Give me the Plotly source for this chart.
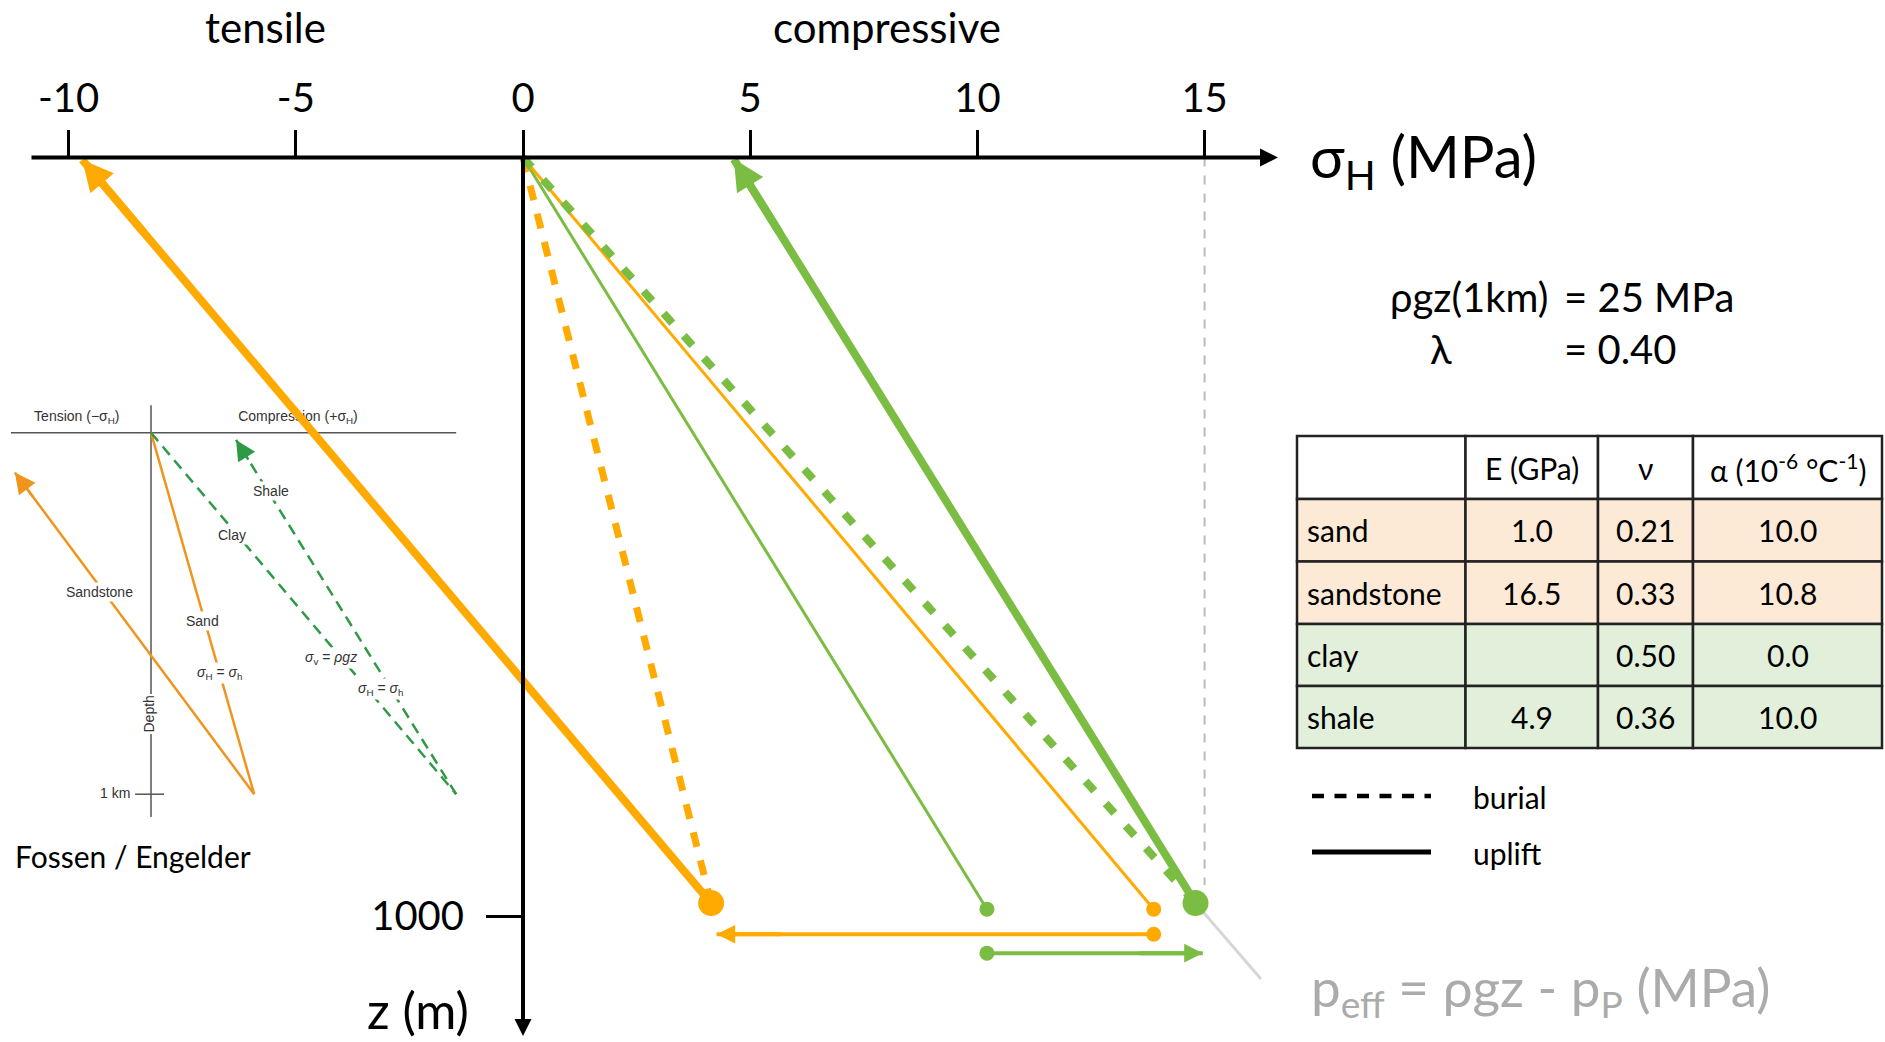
import plotly.graph_objects as go

# ===================== DATA =====================
# Main diagram: horizontal stress sigma_H (MPa) against depth z (m)
sigma_ticks = [-10, -5, 0, 5, 10, 15]
sigma_tick_labels = ["-10", "-5", "0", "5", "10", "15"]
depth_ticks = [1000]
depth_tick_labels = ["1000"]

# burial paths (dashed)
sand_burial_sigma = [0.0, 4.14]
sand_burial_z = [0, 983]
clay_burial_sigma = [0.0, 14.80]
clay_burial_z = [0, 983]
# elastic burial paths (thin)
sandstone_burial_sigma = [0.0, 13.88]
sandstone_burial_z = [0, 991]
shale_burial_sigma = [0.0, 10.21]
shale_burial_z = [0, 991]
# uplift paths (thick, with arrows)
sandstone_uplift_sigma = [4.14, -9.70]
sandstone_uplift_z = [983, 3]
shale_uplift_sigma = [14.80, 4.64]
shale_uplift_z = [983, 2]
# stress shifts at depth
sandstone_shift_sigma = [13.88, 4.26]
sandstone_shift_z = [1024, 1024]
shale_shift_sigma = [10.21, 14.96]
shale_shift_z = [1049, 1049]
# reference lines
peff_sigma = [15, 15]
peff_z = [0, 959]
pointer_sigma = [14.80, 16.24]
pointer_z = [983, 1083]

# parameters table
table_columns = ["", "E (GPa)", "ν", "α (10<sup>-6</sup> °C<sup>-1</sup>)"]
materials = ["sand", "sandstone", "clay", "shale"]
young_modulus_gpa = [1.0, 16.5, None, 4.9]
poisson_ratio = [0.21, 0.33, 0.50, 0.36]
thermal_expansion = [10.0, 10.8, 0.0, 10.0]
material_group = ["sand", "sand", "clay", "clay"]

rho_g_z_1km = 25
lambda_ratio = 0.40

# Inset (after Fossen / Engelder): stress (arbitrary units) against depth (km)
inset_sand_u = [0.0, 2.85]
inset_sand_km = [0.0, 1.0]
inset_sandstone_u = [2.85, -3.76]
inset_sandstone_km = [1.0, 0.11]
inset_clay_u = [0.0, 8.43]
inset_clay_km = [0.0, 1.0]
inset_shale_u = [8.43, 2.35]
inset_shale_km = [1.0, 0.02]
inset_labels = ["Shale", "Clay", "Sandstone", "Sand",
                "<i>σ</i><sub>H</sub> = <i>σ</i><sub>h</sub>",
                "<i>σ</i><sub>v</sub> = <i>ρgz</i>",
                "<i>σ</i><sub>H</sub> = <i>σ</i><sub>h</sub>",
                "1 km"]
inset_label_u = [3.31, 2.25, -1.43, 1.43, 1.88, 4.97, 6.33, -0.99]
inset_label_km = [0.161, 0.284, 0.441, 0.520, 0.664, 0.623, 0.708, 0.996]

# ===================== STYLE / LAYOUT =====================
W, H = 1885, 1042
FONT = "Lato"
ORANGE = "#FFAA00"
GREEN = "#7BBD42"
IN_ORANGE = "#EF951E"
IN_GREEN = "#2E9A46"
IN_GREY = "#555555"

# main axes pixel mapping
X0_PX, PX_PER_MPA = 523.0, 45.44
Z0_PX, PX_PER_M = 157.5, 0.7585
# inset axes pixel mapping
I0X, I0Y, I_PX_PER_U, I_PX_PER_KM = 151.0, 432.7, 36.2, 361.5
INSET_U_EXT = (-3.87, 8.43)
INSET_KM_EXT = (-0.076, 1.063)


def px(x):
    return x / W


def py(y):
    return 1 - y / H


fig = go.Figure()


def add_line(xs, ys, color, width, dash="solid", ax=("x2", "y2")):
    fig.add_trace(go.Scatter(x=xs, y=ys, mode="lines",
                             line=dict(color=color, width=width, dash=dash),
                             xaxis=ax[0], yaxis=ax[1], hoverinfo="skip",
                             showlegend=False))


def add_head(xs, ys, color, width, size, frac, ref=("x2", "y2")):
    tx, ty = xs[-1], ys[-1]
    sx = tx + frac * (xs[0] - tx)
    sy = ty + frac * (ys[0] - ty)
    fig.add_annotation(x=tx, y=ty, ax=sx, ay=sy, xref=ref[0], yref=ref[1],
                       axref=ref[0], ayref=ref[1], text="", showarrow=True,
                       arrowhead=2, arrowsize=size, arrowwidth=width,
                       arrowcolor=color, standoff=0)


# ---------- inset (Fossen / Engelder) ----------
ia = ("x", "y")
add_line(list(INSET_U_EXT), [0, 0], IN_GREY, 1.5, ax=ia)
add_line([0, 0], list(INSET_KM_EXT), IN_GREY, 1.5, ax=ia)
add_line([-0.44, 0.36], [1.0, 1.0], IN_GREY, 1.5, ax=ia)
add_line(inset_sand_u, inset_sand_km, IN_ORANGE, 2.5, ax=ia)
add_line(inset_sandstone_u, inset_sandstone_km, IN_ORANGE, 2.5, ax=ia)
add_line(inset_clay_u, inset_clay_km, IN_GREEN, 2.5, dash="11px,7px", ax=ia)
add_line(inset_shale_u, inset_shale_km, IN_GREEN, 2.5, dash="11px,7px", ax=ia)
fig.add_trace(go.Scatter(x=[-2.05, 4.06], y=[-0.0425, -0.0425], mode="text",
                         text=["Tension (−σ<sub>H</sub>)", "Compression (+σ<sub>H</sub>)"],
                         textfont=dict(family="Liberation Sans", size=14, color="#333"),
                         xaxis="x", yaxis="y", hoverinfo="skip", showlegend=False))

# ---------- main diagram ----------
add_line(peff_sigma, peff_z, "#BBBBBB", 2, dash="9px,9px")
add_line(pointer_sigma, pointer_z, "#D6D6D6", 3)
add_line(shale_burial_sigma, shale_burial_z, GREEN, 3)
add_line(sandstone_burial_sigma, sandstone_burial_z, ORANGE, 3)
add_line(sand_burial_sigma, sand_burial_z, ORANGE, 7, dash="15px,14px")
add_line(clay_burial_sigma, clay_burial_z, GREEN, 8, dash="13px,17px")
add_line(sandstone_uplift_sigma, sandstone_uplift_z, ORANGE, 8)
add_line(shale_uplift_sigma, shale_uplift_z, GREEN, 8)
add_line(sandstone_shift_sigma, sandstone_shift_z, ORANGE, 4)
add_line(shale_shift_sigma, shale_shift_z, GREEN, 4)

# end-point dots
fig.add_trace(go.Scatter(x=[sand_burial_sigma[-1], clay_burial_sigma[-1]],
                         y=[sand_burial_z[-1], clay_burial_z[-1]], mode="markers",
                         marker=dict(size=26, color=[ORANGE, GREEN], line=dict(width=0)),
                         xaxis="x2", yaxis="y2", hoverinfo="skip", showlegend=False))
fig.add_trace(go.Scatter(x=[sandstone_burial_sigma[-1], shale_burial_sigma[-1],
                            sandstone_shift_sigma[0], shale_shift_sigma[0]],
                         y=[sandstone_burial_z[-1], shale_burial_z[-1],
                            sandstone_shift_z[0], shale_shift_z[0]], mode="markers",
                         marker=dict(size=15, color=[ORANGE, GREEN, ORANGE, GREEN],
                                     line=dict(width=0)),
                         xaxis="x2", yaxis="y2", hoverinfo="skip", showlegend=False))

# axis lines with arrows
x_axis_ends = [(30 - X0_PX) / PX_PER_MPA, (1278 - X0_PX) / PX_PER_MPA]
z_axis_ends = [0, (1036 - Z0_PX) / PX_PER_M]
fig.add_annotation(x=x_axis_ends[1], y=0, ax=x_axis_ends[0], ay=0, xref="x2", yref="y2",
                   axref="x2", ayref="y2", text="", showarrow=True, arrowhead=2,
                   arrowsize=0.9, arrowwidth=4, arrowcolor="black", standoff=0)
fig.add_annotation(x=0, y=z_axis_ends[1], ax=0, ay=z_axis_ends[0], xref="x2", yref="y2",
                   axref="x2", ayref="y2", text="", showarrow=True, arrowhead=2,
                   arrowsize=0.85, arrowwidth=4, arrowcolor="black", standoff=0)

# arrow heads on data paths
add_head(sandstone_uplift_sigma, sandstone_uplift_z, ORANGE, 8, 0.77, 0.1)
add_head(shale_uplift_sigma, shale_uplift_z, GREEN, 8, 0.77, 0.1)
add_head(sandstone_shift_sigma, sandstone_shift_z, ORANGE, 4, 0.93, 0.15)
add_head(shale_shift_sigma, shale_shift_z, GREEN, 4, 0.93, 0.3)
add_head(inset_sandstone_u, inset_sandstone_km, IN_ORANGE, 2.5, 1.65, 0.08, ref=ia)
add_head(inset_shale_u, inset_shale_km, IN_GREEN, 2.5, 1.6, 0.06, ref=ia)

# inset labels (white knock-out background)
for t, u, k in zip(inset_labels, inset_label_u, inset_label_km):
    fig.add_annotation(x=u, y=k, xref="x", yref="y", text=t, showarrow=False,
                       font=dict(family="Liberation Sans", size=14, color="#333"),
                       bgcolor="white", borderpad=1)
fig.add_annotation(x=-0.05, y=0.779, xref="x", yref="y", text="Depth", textangle=-90,
                   showarrow=False, font=dict(family="Liberation Sans", size=14, color="#333"),
                   bgcolor="white", borderpad=1)


# ---------- texts ----------
def txt(x, y, text, size, xanchor="center", color="black"):
    fig.add_annotation(x=px(x), y=py(y), xref="paper", yref="paper", text=text,
                       showarrow=False, xanchor=xanchor, yanchor="middle",
                       font=dict(family=FONT, size=size, color=color))


txt(265, 27, "tensile", 42)
txt(887, 27, "compressive", 42)
txt(1308, 160, "σ<sub>H</sub> (MPa)", 58, xanchor="left")
txt(418, 1010, "z (m)", 50)
txt(13, 856, "Fossen / Engelder", 30, xanchor="left")
txt(1550, 297, "ρgz(1km)", 40, xanchor="right")
txt(1562, 297, f"= {rho_g_z_1km} MPa", 40, xanchor="left")
txt(1441, 349, "λ", 40)
txt(1562, 349, f"= {lambda_ratio:.2f}", 40, xanchor="left")
txt(1309, 990, "p<sub>eff</sub> = ρgz - p<sub>P</sub> (MPa)", 53, xanchor="left",
    color="#ABABAB")

# legend
fig.add_shape(type="line", xref="paper", yref="paper", x0=px(1312), x1=px(1431),
              y0=py(796), y1=py(796), line=dict(color="black", width=4.5, dash="12px,10.5px"))
fig.add_shape(type="line", xref="paper", yref="paper", x0=px(1312), x1=px(1431),
              y0=py(852), y1=py(852), line=dict(color="black", width=5))
txt(1471, 797, "burial", 30, xanchor="left")
txt(1471, 853, "uplift", 30, xanchor="left")

# ---------- table ----------
TX = [1297, 1465.5, 1598, 1693, 1882]
TY = [436, 499, 561.5, 624, 686, 748]
FILL = {"sand": "#FDEAD6", "clay": "#E2EFDA"}
rows = [table_columns]
for m, e, nu, a in zip(materials, young_modulus_gpa, poisson_ratio, thermal_expansion):
    rows.append([m, "" if e is None else f"{e:.1f}", f"{nu:.2f}", f"{a:.1f}"])
fills = ["white"] + [FILL[g] for g in material_group]
for r, row in enumerate(rows):
    for c, val in enumerate(row):
        fig.add_shape(type="rect", xref="paper", yref="paper",
                      x0=px(TX[c]), x1=px(TX[c + 1]), y0=py(TY[r + 1]), y1=py(TY[r]),
                      fillcolor=fills[r], line=dict(color="#222222", width=2.5),
                      layer="above")
        if not val:
            continue
        yc = (TY[r] + TY[r + 1]) / 2
        if c == 0:
            txt(TX[0] + 8, yc, val, 30, xanchor="left")
        else:
            txt((TX[c] + TX[c + 1]) / 2, yc, val, 30)

# ---------- axes ----------
x2_range = [-X0_PX / PX_PER_MPA, (W - X0_PX) / PX_PER_MPA]
y2_range = [(H - Z0_PX) / PX_PER_M, -Z0_PX / PX_PER_M]
x1_range = [-I0X / I_PX_PER_U, (W - I0X) / I_PX_PER_U]
y1_range = [(H - I0Y) / I_PX_PER_KM, -I0Y / I_PX_PER_KM]

fig.update_layout(
    template="none",
    width=W, height=H,
    margin=dict(l=0, r=0, t=0, b=0, pad=0),
    paper_bgcolor="white", plot_bgcolor="white",
    showlegend=False, hovermode=False,
    font=dict(family=FONT, color="black"),
    xaxis=dict(domain=[0, 1], range=x1_range, visible=False, fixedrange=True),
    yaxis=dict(domain=[0, 1], range=y1_range, visible=False, fixedrange=True),
    xaxis2=dict(range=x2_range, overlaying="x", side="top", anchor="free",
                position=py(Z0_PX), showgrid=False, zeroline=False, showline=False,
                ticks="outside", ticklen=28, tickwidth=3, tickcolor="black",
                tickvals=sigma_ticks, ticktext=sigma_tick_labels,
                tickfont=dict(family=FONT, size=40, color="black"),
                ticklabelstandoff=2, automargin=False, fixedrange=True),
    yaxis2=dict(range=y2_range, overlaying="y", side="left", anchor="free",
                position=px(X0_PX), showgrid=False, zeroline=False, showline=False,
                ticks="outside", ticklen=37, tickwidth=3, tickcolor="black",
                tickvals=depth_ticks, ticktext=depth_tick_labels,
                tickfont=dict(family=FONT, size=40, color="black"),
                ticklabelstandoff=14, automargin=False, fixedrange=True),
)

fig.write_html("out.html", config={"displayModeBar": False},
               post_script="document.body.style.margin='0';document.body.style.overflow='hidden';")
